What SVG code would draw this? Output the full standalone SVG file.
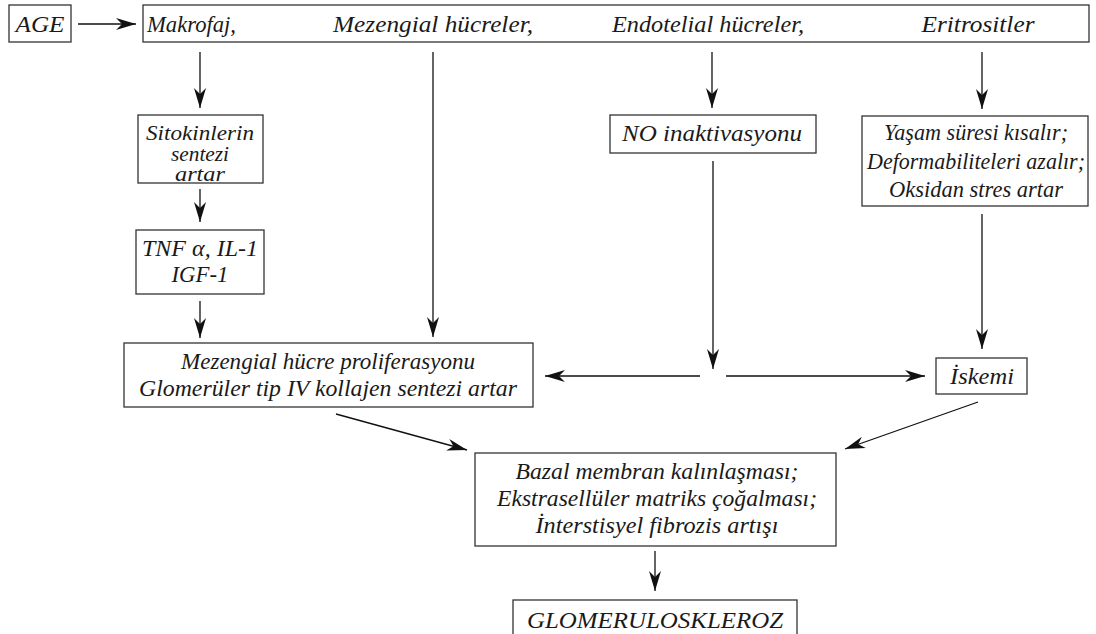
<svg xmlns="http://www.w3.org/2000/svg" width="1096" height="634" viewBox="0 0 1096 634">
<defs>
<style>
.box{fill:#fff;stroke:#333;stroke-width:1.3}
.t{font-family:"Liberation Serif","Times New Roman",serif;font-style:italic;font-size:23px;fill:#1a1a1a;text-anchor:middle}
.s{font-size:21px}
.l{font-size:24px}
.c{fill:none;stroke:#111;stroke-width:1.3}
</style>
<marker id="ah" markerUnits="userSpaceOnUse" markerWidth="21" markerHeight="13" refX="20" refY="6.5" orient="auto">
<path d="M0,0.5 L20,6.5 L0,12.5 L6,6.5 Z" fill="#111"/>
</marker>
</defs>
<rect width="1096" height="634" fill="#fff"/>
<g id="connectors">
<line class="c" x1="78" y1="24" x2="136" y2="24" marker-end="url(#ah)"/>
<line class="c" x1="200" y1="52" x2="200" y2="108" marker-end="url(#ah)"/>
<line class="c" x1="200" y1="189" x2="200" y2="222" marker-end="url(#ah)"/>
<line class="c" x1="200" y1="301" x2="200" y2="338" marker-end="url(#ah)"/>
<line class="c" x1="433" y1="52" x2="433" y2="337" marker-end="url(#ah)"/>
<line class="c" x1="712" y1="52" x2="712" y2="108" marker-end="url(#ah)"/>
<line class="c" x1="713" y1="161" x2="713" y2="369" marker-end="url(#ah)"/>
<line class="c" x1="700" y1="376" x2="545" y2="376" marker-end="url(#ah)"/>
<line class="c" x1="726" y1="376" x2="925" y2="376" marker-end="url(#ah)"/>
<line class="c" x1="982" y1="52" x2="982" y2="109" marker-end="url(#ah)"/>
<line class="c" x1="982" y1="214" x2="982" y2="349" marker-end="url(#ah)"/>
<line class="c" x1="336" y1="414" x2="467" y2="450" marker-end="url(#ah)"/>
<line class="c" x1="978" y1="402" x2="845" y2="449" marker-end="url(#ah)"/>
<line class="c" x1="655" y1="551" x2="655" y2="591" marker-end="url(#ah)"/>
</g>
<g id="age">
<rect class="box" x="9" y="5" width="62" height="37"/>
<text class="t l" x="40" y="32" textLength="49" lengthAdjust="spacingAndGlyphs">AGE</text>
</g>
<g id="cells">
<rect class="box" x="143" y="5" width="946" height="37"/>
<text class="t l" x="147" y="32" style="text-anchor:start" textLength="89" lengthAdjust="spacingAndGlyphs">Makrofaj,</text>
<text class="t l" x="433" y="32" textLength="200" lengthAdjust="spacingAndGlyphs">Mezengial hücreler,</text>
<text class="t l" x="708" y="32" textLength="192" lengthAdjust="spacingAndGlyphs">Endotelial hücreler,</text>
<text class="t l" x="978" y="32" textLength="113" lengthAdjust="spacingAndGlyphs">Eritrositler</text>
</g>
<g id="sitokin">
<rect class="box" x="138" y="115" width="125" height="68"/>
<text class="t s" x="200" y="140" textLength="108" lengthAdjust="spacingAndGlyphs">Sitokinlerin</text>
<text class="t s" x="200" y="161" textLength="58" lengthAdjust="spacingAndGlyphs">sentezi</text>
<text class="t s" x="200" y="181" textLength="50" lengthAdjust="spacingAndGlyphs">artar</text>
</g>
<g id="tnf">
<rect class="box" x="136" y="230" width="128" height="64"/>
<text class="t" x="200" y="256" textLength="116" lengthAdjust="spacingAndGlyphs">TNF α, IL-1</text>
<text class="t" x="200" y="282" textLength="57" lengthAdjust="spacingAndGlyphs">IGF-1</text>
</g>
<g id="mezengial">
<rect class="box" x="124" y="343" width="409" height="64"/>
<text class="t" x="328" y="369" textLength="294" lengthAdjust="spacingAndGlyphs">Mezengial hücre proliferasyonu</text>
<text class="t" x="328" y="396" textLength="378" lengthAdjust="spacingAndGlyphs">Glomerüler tip IV kollajen sentezi artar</text>
</g>
<g id="no">
<rect class="box" x="610" y="115" width="206" height="38"/>
<text class="t l" x="712" y="141" textLength="180" lengthAdjust="spacingAndGlyphs">NO inaktivasyonu</text>
</g>
<g id="eritro">
<rect class="box" x="862" y="116" width="226" height="90"/>
<text class="t" x="976" y="140" textLength="184" lengthAdjust="spacingAndGlyphs">Yaşam süresi kısalır;</text>
<text class="t" x="976" y="169" textLength="218" lengthAdjust="spacingAndGlyphs">Deformabiliteleri azalır;</text>
<text class="t" x="976" y="197" textLength="174" lengthAdjust="spacingAndGlyphs">Oksidan stres artar</text>
</g>
<g id="iskemi">
<rect class="box" x="936" y="358" width="91" height="36"/>
<text class="t l" x="982" y="384" textLength="64" lengthAdjust="spacingAndGlyphs">İskemi</text>
</g>
<g id="bazal">
<rect class="box" x="475" y="453" width="361" height="93"/>
<text class="t" x="657" y="479" textLength="283" lengthAdjust="spacingAndGlyphs">Bazal membran kalınlaşması;</text>
<text class="t" x="657" y="506" textLength="320" lengthAdjust="spacingAndGlyphs">Ekstrasellüler matriks çoğalması;</text>
<text class="t" x="657" y="533" textLength="243" lengthAdjust="spacingAndGlyphs">İnterstisyel fibrozis artışı</text>
</g>
<g id="glomeruloskleroz">
<rect class="box" x="513" y="600" width="284" height="50"/>
<text class="t l" x="655" y="628" textLength="256" lengthAdjust="spacingAndGlyphs">GLOMERULOSKLEROZ</text>
</g>
</svg>
